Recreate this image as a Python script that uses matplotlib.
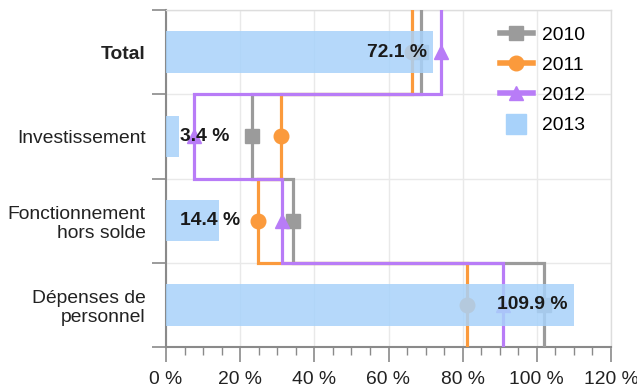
import matplotlib.pyplot as plt
from matplotlib.lines import Line2D
from matplotlib.ticker import MultipleLocator, FuncFormatter
import numpy as np

plt.rcParams['font.family'] = ['Liberation Sans', 'DejaVu Sans']

# Categories (top to bottom) and yearly ratios in %
categories = ["Total", "Investissement", "Fonctionnement\nhors solde", "Dépenses de\npersonnel"]
val_2010 = [68.7, 23.2, 34.3, 102.0]
val_2011 = [66.4, 31.0, 24.7, 81.3]
val_2012 = [74.1, 7.6, 31.2, 91.0]
val_2013 = [72.1, 3.4, 14.4, 109.9]
bar_labels = ["72.1 %", "3.4 %", "14.4 %", "109.9 %"]

c_2010 = "#9b9b9b"
c_2011 = "#fb9a3c"
c_2012 = "#b87cf7"
c_2013 = "#a8d2fa"

fs = 13.9

fig = plt.figure(figsize=(6.37, 3.92), dpi=100)
ax = fig.add_axes([166/637, 1-347/392, 445/637, 337/392])

pos = np.arange(len(categories))

# step lines: one vertical segment per category band, joined at the band edges
def step_line(vals, color, marker, ms):
    xs = np.repeat(vals, 2)
    ys = np.column_stack([pos - 0.5, pos + 0.5]).ravel()
    ax.plot(xs, ys, color=color, lw=2.3, zorder=3, solid_joinstyle='miter')
    ax.plot(vals, pos, linestyle='none', marker=marker, ms=ms,
            color=color, mec=color, zorder=3)

step_line(val_2010, c_2010, 's', 9.5)
step_line(val_2011, c_2011, 'o', 10.5)
step_line(val_2012, c_2012, '^', 10)

ax.barh(pos, val_2013, height=0.49, color=c_2013, alpha=0.85, zorder=4)

for i, v in enumerate(val_2013):
    if v > 30:
        ax.text(v - 1.7, pos[i], bar_labels[i], ha='right', va='center',
                fontsize=fs, fontweight='bold', color='#1a1a1a', zorder=5)
    else:
        ax.text(3.8, pos[i], bar_labels[i], ha='left', va='center',
                fontsize=fs, fontweight='bold', color='#1a1a1a', zorder=5)

ax.set_xlim(0, 120)
ax.set_ylim(3.5, -0.5)

ax.xaxis.set_major_locator(MultipleLocator(20))
ax.xaxis.set_minor_locator(MultipleLocator(5))
ax.xaxis.set_major_formatter(FuncFormatter(lambda x, p: f"{x:.0f} %"))

ax.set_yticks(pos)
ax.set_yticklabels(categories)
ax.get_yticklabels()[0].set_fontweight('bold')
ax.set_yticks(np.arange(-0.5, 4, 1), minor=True)

ax.tick_params(axis='x', which='major', length=10.5, width=1.2, color='#8a8a8a',
               labelsize=fs, pad=6.5, labelcolor='#222222')
ax.tick_params(axis='x', which='minor', length=5.5, width=1, color='#8a8a8a')
ax.tick_params(axis='y', which='major', length=0, pad=14.5, labelsize=fs,
               labelcolor='#222222')
ax.tick_params(axis='y', which='minor', length=10, width=1.2, color='#8a8a8a')

ax.grid(axis='x', which='major', color='#e9e9e9', lw=1, zorder=0)
ax.grid(axis='y', which='minor', color='#e9e9e9', lw=1, zorder=0)
ax.set_axisbelow(True)

for s in ['top', 'right']:
    ax.spines[s].set_color('#dddddd')
    ax.spines[s].set_linewidth(1)
for s in ['left', 'bottom']:
    ax.spines[s].set_color('#8a8a8a')
    ax.spines[s].set_linewidth(1.5)

handles = [
    Line2D([], [], color=c_2010, lw=4, marker='s', ms=9.5),
    Line2D([], [], color=c_2011, lw=4, marker='o', ms=10.5),
    Line2D([], [], color=c_2012, lw=4, marker='^', ms=10),
    Line2D([], [], color=c_2013, linestyle='none', marker='s', ms=15),
]
ax.legend(handles, ["2010", "2011", "2012", "2013"], loc='upper left',
          bbox_to_anchor=((500-166)/445, 1-(26-10)/337), frameon=False,
          fontsize=fs, handlelength=1.7, handletextpad=0.45, labelspacing=0.66,
          borderpad=0, borderaxespad=0)

fig.savefig("out.png", dpi=100)
